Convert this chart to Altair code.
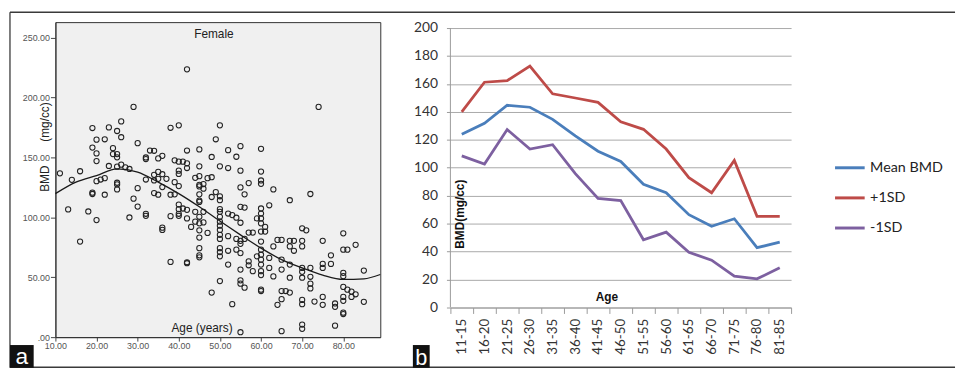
import altair as alt
import pandas as pd

# ---------------- Panel a: scatter (Female) ----------------
scatter_ages = [11.1, 13.1, 14, 16, 18, 19, 20, 21, 22, 23, 24, 25, 26, 27, 28, 29, 30,
                32, 33, 34, 35, 36, 37, 38, 39, 40, 41, 42, 43, 44, 45, 46, 47, 48, 49,
                50, 52, 53, 54, 55, 56, 57, 58, 59, 60, 61, 62, 63, 64, 65, 66, 67, 68,
                70, 71, 72, 73, 74, 75, 77, 78, 80, 81, 82, 83, 85]
scatter_bmd = [
    [136.8], [106.6], [131.3], [138.5, 79.8], [104.9],
    [174.6, 158.3, 120.6, 119.5],
    [164.9, 153.4, 147.0, 130.2, 97.7],
    [131.6],
    [165.2, 132.7, 118.9],
    [175.1, 142.9],
    [157.8, 152.8],
    [172.1, 152.8, 150.1, 142.3, 128.9, 127.5, 123.3],
    [180.1, 166.9, 144.0],
    [141.8],
    [140.4, 99.9],
    [192.2, 115.6],
    [161.9, 124.4, 109.0],
    [148.7, 150.0, 131.6, 103.0, 101.3],
    [155.8],
    [155.6, 135.5, 130.8, 120.3],
    [149.2, 137.9, 132.2, 118.9],
    [151.4, 136.0, 125.3, 91.4, 89.5],
    [132.2],
    [174.8, 118.9, 101.0, 62.8],
    [147.6, 129.4, 119.2],
    [176.8, 146.5, 139.0, 136.3, 126.1, 110.7, 106.8, 103.0, 101.3],
    [146.5, 107.4],
    [223.6, 155.8, 145.1, 141.2, 106.3, 99.1, 62.5, 61.7],
    [92.0],
    [133.0, 104.6, 96.4],
    [156.7, 142.6, 134.4, 127.2, 125.8, 119.2, 114.0, 112.9, 100.5, 95.0, 89.2, 83.1, 74.3, 68.3, 66.6],
    [127.8, 123.9, 104.6, 95.8],
    [132.7, 87.0],
    [150.4, 133.5, 117.0, 37.2],
    [165.2, 121.1],
    [176.8, 142.6, 117.6, 114.3, 106.8, 104.6, 100.5, 96.4, 93.1, 89.5, 85.4, 82.0, 74.3, 71.0, 67.5, 46.8],
    [156.1, 141.2, 103.2, 84.3, 72.1, 60.6],
    [101.9, 27.5],
    [150.6, 99.7, 82.0, 73.0],
    [159.4, 139.0, 125.0, 108.8, 95.5, 80.4, 77.9, 70.2, 56.4, 47.4, 44.6, 4.1],
    [119.2, 108.2, 82.0, 41.3],
    [128.6, 87.3, 63.3, 60.0],
    [87.3, 55.1],
    [99.1, 67.5],
    [157.2, 138.2, 130.8, 128.0, 107.4, 103.2, 99.1, 95.0, 88.1, 79.8, 73.0, 68.8, 64.7, 60.6, 55.1, 51.8, 39.6, 38.5],
    [92.0, 88.1],
    [110.1, 66.1, 57.8],
    [123.3, 75.7, 50.7],
    [81.2, 27.0],
    [81.2, 64.7, 56.4, 38.5, 31.7, 5.0],
    [38.5],
    [114.3, 80.4, 75.7, 60.6, 49.6, 37.2],
    [80.4, 72.1],
    [90.9, 80.4, 75.7, 57.8, 54.5, 49.6, 31.1, 27.5, 10.5, 6.9],
    [89.2],
    [119.5, 57.8, 50.4, 44.6, 40.7],
    [29.7],
    [192.2],
    [80.4, 61.1, 57.8, 33.6, 27.0],
    [68.3, 61.1],
    [28.1, 25.3, 9.6],
    [86.7, 73.0, 53.7, 50.9, 41.9, 33.6, 30.3, 20.4, 19.3],
    [73.0, 39.6],
    [38.0, 33.6],
    [35.8, 77.1],
    [55.6, 29.5],
]

curve_age = [10, 15, 20, 25, 30, 35, 40, 45, 50, 55, 60, 65, 70, 75, 80, 85, 89]
curve_bmd = [119.8, 129.4, 134.9, 140.4, 137.7, 129.4, 119.8, 108.8, 96.9, 85.4,
             74.3, 64.7, 57.8, 51.8, 48.2, 48.7, 52.3]

# ---------------- Panel b: line chart ----------------
age_groups = ["11-15", "16-20", "21-25", "26-30", "31-35", "36-40", "41-45", "46-50",
              "51-55", "56-60", "61-65", "66-70", "71-75", "76-80", "81-85"]
mean_bmd = [124.0, 131.8, 144.7, 143.3, 134.6, 122.8, 111.8, 104.5, 88.2, 82.1,
            66.4, 58.1, 63.5, 42.8, 46.8]
plus_1sd = [140.0, 161.2, 162.4, 172.7, 152.9, 149.9, 146.8, 132.9, 127.5, 113.4,
            92.9, 82.1, 105.2, 65.2, 65.2]
minus_1sd = [108.5, 102.6, 127.3, 113.4, 116.5, 95.8, 78.1, 76.5, 48.5, 53.9,
             39.5, 33.9, 22.4, 20.5, 28.5]
series_names = ["Mean BMD", "+1SD", "-1SD"]
series_colors = ["#4A7EBB", "#BE4B48", "#7D60A0"]
b_ticks = [0, 20, 40, 60, 80, 100, 120, 140, 160, 180, 200]

# ---------------- tables ----------------
rows = []
for a, vals in zip(scatter_ages, scatter_bmd):
    for v in vals:
        rows.append({"age": a, "bmd": v})
scatter_df = pd.DataFrame(rows)
curve_df = pd.DataFrame({"age": curve_age, "bmd": curve_bmd})

b_rows = []
for name, vals in zip(series_names, [mean_bmd, plus_1sd, minus_1sd]):
    for g, v in zip(age_groups, vals):
        b_rows.append({"group": g, "series": name, "value": v})
b_df = pd.DataFrame(b_rows)

one_row = alt.Data(values=[{}])
FONT_A = "Liberation Sans"
FONT_B = "Lato"
EM = "\u2003"

# ---------- panel a ----------
xa = alt.X("age:Q",
           scale=alt.Scale(domain=[10, 89], nice=False, zero=False),
           axis=alt.Axis(values=list(range(10, 81, 10)), format=".2f",
                         title="Age (years)", titleX=148, titleY=-10,
                         titleAlign="center", titleBaseline="middle",
                         titleFont=FONT_A, titleFontSize=12, titleFontWeight="normal",
                         titleColor="#222", labelFlush=False, labelOverlap=False,
                         labelFont=FONT_A, labelFontSize=9, labelColor="#555",
                         labelPadding=1, tickSize=4, tickColor="#444",
                         domainColor="#333", grid=False))
ya = alt.Y("bmd:Q",
           scale=alt.Scale(domain=[0, 263], nice=False),
           axis=alt.Axis(values=[0, 50, 100, 150, 200, 250],
                         labelExpr="datum.value == 0 ? '.00' : format(datum.value, '.2f')",
                         title="BMD" + EM + EM + "(mg/cc)", titleX=-11, titleY=126,
                         titleAngle=-90, titleAlign="center", titleBaseline="middle",
                         titleFont=FONT_A, titleFontSize=12, titleFontWeight="normal",
                         titleColor="#222", labelFlush=False, labelOverlap=False,
                         labelFont=FONT_A, labelFontSize=9, labelColor="#555",
                         labelPadding=1, tickSize=5, tickColor="#444",
                         domainColor="#333", grid=False))

points = alt.Chart(scatter_df).mark_point(
    shape="circle", filled=False, size=28, stroke="#222", strokeWidth=1.05, opacity=1
).encode(x=xa, y=ya)

curve = alt.Chart(curve_df).mark_line(
    color="#1a1a1a", strokeWidth=1.3, interpolate="monotone"
).encode(x="age:Q", y="bmd:Q")

frame_top = alt.Chart(one_row).mark_rule(color="#3a3a3a", strokeWidth=1.3).encode(
    x=alt.value(-46), x2=alt.value(911), y=alt.value(-10))
frame_bottom = alt.Chart(one_row).mark_rule(color="#3a3a3a", strokeWidth=1.5).encode(
    x=alt.value(-46), x2=alt.value(911), y=alt.value(349.5))
frame_left = alt.Chart(one_row).mark_rule(color="#3a3a3a", strokeWidth=1.3).encode(
    x=alt.value(-46), y=alt.value(-10), y2=alt.value(350))
box_a = alt.Chart(one_row).mark_rect(color="#111").encode(
    x=alt.value(-46), x2=alt.value(-22), y=alt.value(327), y2=alt.value(350))
text_a = alt.Chart(one_row).mark_text(
    text="a", color="white", font=FONT_A, fontSize=23, align="center", baseline="alphabetic"
).encode(x=alt.value(-34), y=alt.value(346))

panel_a = alt.layer(points, curve, frame_top, frame_bottom, frame_left, box_a, text_a).properties(
    width=329, height=319,
    title=alt.TitleParams("Female", font=FONT_A, fontSize=12, fontWeight="normal",
                          color="#222", anchor="middle", offset=-30, dx=-4),
    view=alt.ViewBackground(fill="#f0f0f0", stroke="#333", strokeWidth=1),
)

# ---------- panel b ----------
xb = alt.X("group:N", sort=age_groups, bandPosition=0.5,
           scale=alt.Scale(type="band", paddingInner=0, paddingOuter=0),
           axis=alt.Axis(title="Age", titleX=158, titleY=-11, titleAlign="center",
                         titleBaseline="middle", titleFont=FONT_A, titleFontSize=12,
                         titleFontWeight="bold", titleColor="#111",
                         labelAngle=-90, labelFont=FONT_B, labelFontSize=13.5,
                         labelColor="#333", labelPadding=5, tickSize=6,
                         tickBand="extent", tickColor="#9a9a9a", domainColor="#9a9a9a",
                         grid=False))
yb = alt.Y("value:Q", scale=alt.Scale(domain=[0, 204.2], nice=False),
           axis=alt.Axis(values=b_ticks, title="BMD(mg/cc)",
                         titleX=9, titleY=194, titleAngle=-90, titleAlign="center",
                         titleBaseline="middle", titleFont=FONT_A, titleFontSize=12,
                         titleFontWeight="bold", titleColor="#111",
                         labelFont=FONT_B, labelFontSize=14, labelColor="#333",
                         labelOverlap=False, labelFlush=False,
                         labelPadding=9, tickSize=4, tickColor="#9a9a9a",
                         domain=False, grid=True, gridColor="#a9a9a9", gridWidth=1))

lines = alt.Chart(b_df).mark_line(strokeWidth=2.8).encode(
    x=xb, y=yb,
    color=alt.Color("series:N",
                    scale=alt.Scale(domain=series_names, range=series_colors),
                    legend=alt.Legend(title=None, orient="none", legendX=388, legendY=131,
                                      symbolType="stroke", symbolSize=900,
                                      symbolStrokeWidth=3, labelFont=FONT_B,
                                      labelFontSize=14.5, labelColor="#222",
                                      labelOffset=4, rowPadding=7.5, padding=0)),
)
axis_line = alt.Chart(one_row).mark_rule(color="#9a9a9a", strokeWidth=1).encode(
    x=alt.value(0), y=alt.value(6), y2=alt.value(289))
box_b = alt.Chart(one_row).mark_rect(color="#111").encode(
    x=alt.value(-38), x2=alt.value(-21), y=alt.value(327), y2=alt.value(350))
text_b = alt.Chart(one_row).mark_text(
    text="b", color="white", font=FONT_A, fontSize=22, align="center", baseline="alphabetic"
).encode(x=alt.value(-29.5), y=alt.value(347))

panel_b = alt.layer(lines, axis_line, box_b, text_b).properties(width=345, height=289)

chart = alt.hconcat(panel_a, panel_b, spacing=71, bounds="flush").resolve_scale(
    color="independent"
).resolve_legend(color="independent").properties(
    padding=0, background="white"
).configure_view(stroke=None)

chart.save("out.html", embed_options={"renderer": "svg", "actions": False})
